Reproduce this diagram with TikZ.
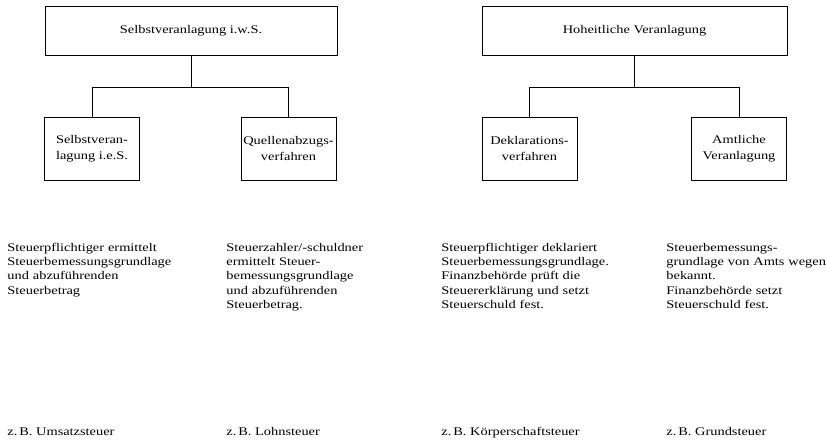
\documentclass[tikz,border=0pt]{standalone}
\usepackage{fontspec}
\setmainfont{Liberation Serif}[FakeStretch=1.23]
\usepackage{tikz}
\usetikzlibrary{positioning}

\begin{document}
\begin{tikzpicture}[x=1pt,y=-1pt,line width=0.9pt,
  every node/.style={font=\fontsize{11.7}{14.4}\selectfont},
  topbox/.style={draw,minimum height=49pt,inner sep=2pt},
  subbox/.style={draw,minimum width=95pt,minimum height=63pt,align=center,inner sep=1pt,
    font=\fontsize{11.7}{16}\selectfont},
  desc/.style={anchor=north west,align=left,inner sep=0pt,text width=190pt},
  example/.style={anchor=base west,inner sep=0pt}]
  \useasboundingbox (0,0) rectangle (826,444);
  % Selbstveranlagung
  \node[topbox,minimum width=292pt] (swS) at (191,30.5) {Selbstveranlagung i.w.S.};
  \node[subbox] (seS) at (92,148.5) {Selbstveran-\\lagung i.e.S.};
  \node[subbox] (qav) at (288.5,148.5) {Quellenabzugs-\\verfahren};
  \coordinate (j1) at (191,87);
  \draw (swS.south) -- (j1);
  \draw (j1) -| (seS.north);
  \draw (j1) -| (qav.north);
  % Hoheitliche Veranlagung
  \node[topbox,minimum width=305pt] (hv) at (634.5,30.5) {Hoheitliche Veranlagung};
  \node[subbox] (dv) at (529.5,148.5) {Deklarations-\\verfahren};
  \node[subbox] (av) at (739,148.5) {Amtliche\\Veranlagung};
  \coordinate (j2) at (634.5,87);
  \draw (hv.south) -- (j2);
  \draw (j2) -| (dv.north);
  \draw (j2) -| (av.north);
  % Beschreibungen
  \node[desc] (t1) at (7,242.5) {Steuerpflichtiger ermittelt\\Steuerbemessungsgrundlage\\und abzuführenden\\Steuerbetrag};
  \node[desc] (t2) at (226,242.5) {Steuerzahler/-schuldner\\ermittelt Steuer-\\bemessungsgrundlage\\und abzuführenden\\Steuerbetrag.};
  \node[desc] (t3) at (441,242.5) {Steuerpflichtiger deklariert\\Steuerbemessungsgrundlage.\\Finanzbehörde prüft die\\Steuererklärung und setzt\\Steuerschuld fest.};
  \node[desc] (t4) at (666,242.5) {Steuerbemessungs-\\grundlage von Amts wegen\\bekannt.\\Finanzbehörde setzt\\Steuerschuld fest.};
  % Beispiele
  \node[example] (b1) at (7,435) {z.\,B. Umsatzsteuer};
  \node[example] (b2) at (226,435) {z.\,B. Lohnsteuer};
  \node[example] (b3) at (441,435) {z.\,B. Körperschaftsteuer};
  \node[example] (b4) at (666,435) {z.\,B. Grundsteuer};
\end{tikzpicture}
\end{document}
